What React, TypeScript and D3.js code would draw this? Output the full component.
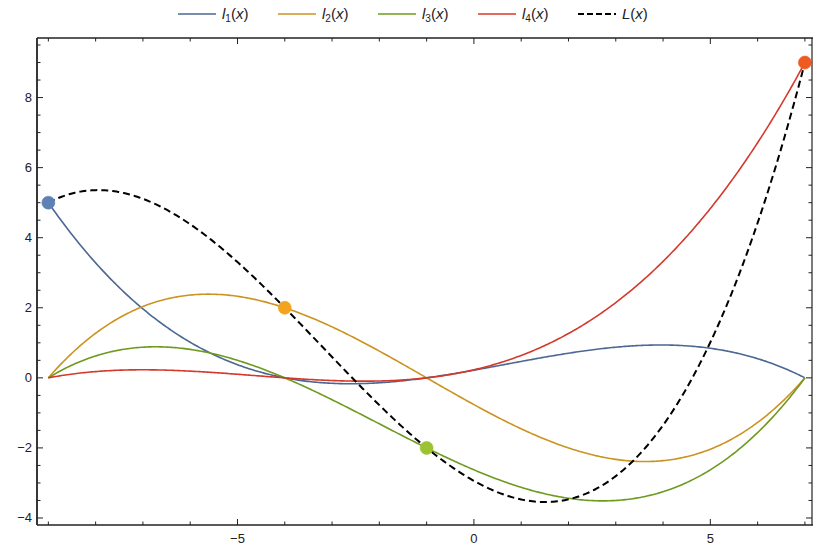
import React from "react";
import * as d3 from "d3";

// Interpolation nodes
const nodeX = [-9, -4, -1, 7];
const nodeY = [5, 2, -2, 9];
const seriesNames = ["1", "2", "3", "4"];
const lineColors = ["#4B6792", "#CC9320", "#6E9A1E", "#D4392B"];
const dotColors = ["#5E81B5", "#F2A41E", "#9DC232", "#EE5A22"];
const xMajor = [-5, 0, 5];
const yMajor = [-4, -2, 0, 2, 4, 6, 8];

const W = 813, H = 550;
const L = 37, R = 812, T = 38, B = 525;

function basis(j: number, x: number) {
  let v = 1;
  for (let m = 0; m < nodeX.length; m++) {
    if (m !== j) v *= (x - nodeX[m]) / (nodeX[j] - nodeX[m]);
  }
  return v;
}

export default function App() {
  const x = d3.scaleLinear().domain([-9.24, 7.15]).range([L, R]);
  const y = d3.scaleLinear().domain([-4.2, 9.7]).range([B, T]);
  const samples = d3.range(0, 401).map((i) => nodeX[0] + (i / 400) * (nodeX[3] - nodeX[0]));
  const line = d3.line<[number, number]>().x((d) => x(d[0])).y((d) => y(d[1]));
  const curves = nodeY.map((yj, j) => samples.map((s) => [s, yj * basis(j, s)] as [number, number]));
  const total = samples.map((s) => [s, nodeY.reduce((acc, yj, j) => acc + yj * basis(j, s), 0)] as [number, number]);

  const xMinor = d3.range(-9, 8, 1);
  const yMinor = d3.range(-4, 9.6, 0.5);
  const axisColor = "#222";
  const font = "'Liberation Sans', Arial, sans-serif";

  const legendItems = [0, 1, 2, 3, 4];
  const legendX0 = 178;
  const legendStep = 100;

  return (
    <svg width={W} height={H} style={{ position: "absolute", left: 0, top: 0 }} fontFamily={font}>
      <rect width={W} height={H} fill="#fff" />
      {/* frame */}
      <line x1={L} x2={R + 1} y1={T} y2={T} stroke={axisColor} strokeWidth={1.6} />
      <line x1={L} x2={R + 1} y1={B} y2={B} stroke={axisColor} strokeWidth={1.6} />
      <line x1={L} x2={L} y1={T} y2={B} stroke={axisColor} strokeWidth={1.8} />
      <line x1={R} x2={R} y1={T} y2={B} stroke={axisColor} strokeWidth={1.2} />
      {/* x ticks */}
      {xMinor.map((v) => {
        const major = xMajor.includes(v);
        const len = major ? 6 : 3.5;
        return (
          <g key={"xt" + v}>
            <line x1={x(v)} x2={x(v)} y1={B} y2={B - len} stroke={axisColor} strokeWidth={1} />
            <line x1={x(v)} x2={x(v)} y1={T} y2={T + len} stroke={axisColor} strokeWidth={1} />
          </g>
        );
      })}
      {xMajor.map((v) => (
        <text key={"xl" + v} x={x(v)} y={B + 18} textAnchor="middle" fontSize={13} fill="#222">
          {v < 0 ? "\u2212" + Math.abs(v) : v}
        </text>
      ))}
      {/* y ticks */}
      {yMinor.map((v) => {
        const major = yMajor.includes(v);
        const len = major ? 6 : 3.5;
        return (
          <g key={"yt" + v}>
            <line x1={L} x2={L + len} y1={y(v)} y2={y(v)} stroke={axisColor} strokeWidth={1} />
            <line x1={R} x2={R - len} y1={y(v)} y2={y(v)} stroke={axisColor} strokeWidth={1} />
          </g>
        );
      })}
      {yMajor.map((v) => (
        <text key={"yl" + v} x={L - 5} y={y(v) + 4.5} textAnchor="end" fontSize={13} fill="#222">
          {v < 0 ? "\u2212" + Math.abs(v) : v}
        </text>
      ))}
      {/* curves */}
      {curves.map((c, j) => (
        <path key={"c" + j} d={line(c) || ""} fill="none" stroke={lineColors[j]} strokeWidth={1.6} />
      ))}
      <path d={line(total) || ""} fill="none" stroke="#000" strokeWidth={2} strokeDasharray="7,4" />
      {/* nodes */}
      {nodeX.map((nx, j) => (
        <circle key={"d" + j} cx={x(nx)} cy={y(nodeY[j])} r={6.5} fill={dotColors[j]} stroke={dotColors[j]} strokeOpacity={0.6} />
      ))}
      {/* legend */}
      {legendItems.map((i) => {
        const lx = legendX0 + i * legendStep;
        const ly = 14;
        const isTotal = i === 4;
        return (
          <g key={"lg" + i}>
            <line x1={lx} x2={lx + 38} y1={ly} y2={ly} stroke={isTotal ? "#000" : lineColors[i]} strokeWidth={isTotal ? 2 : 1.6} strokeDasharray={isTotal ? "6,3" : undefined} />
            <text x={lx + 44} y={ly + 5} fontSize={15} fill="#222">
              {isTotal ? (
                <>
                  <tspan fontStyle="italic">L</tspan>
                  <tspan>(</tspan>
                  <tspan fontStyle="italic">x</tspan>
                  <tspan>)</tspan>
                </>
              ) : (
                <>
                  <tspan fontStyle="italic">l</tspan>
                  <tspan fontSize={10} dy={3}>{seriesNames[i]}</tspan>
                  <tspan dy={-3}>(</tspan>
                  <tspan fontStyle="italic">x</tspan>
                  <tspan>)</tspan>
                </>
              )}
            </text>
          </g>
        );
      })}
    </svg>
  );
}
